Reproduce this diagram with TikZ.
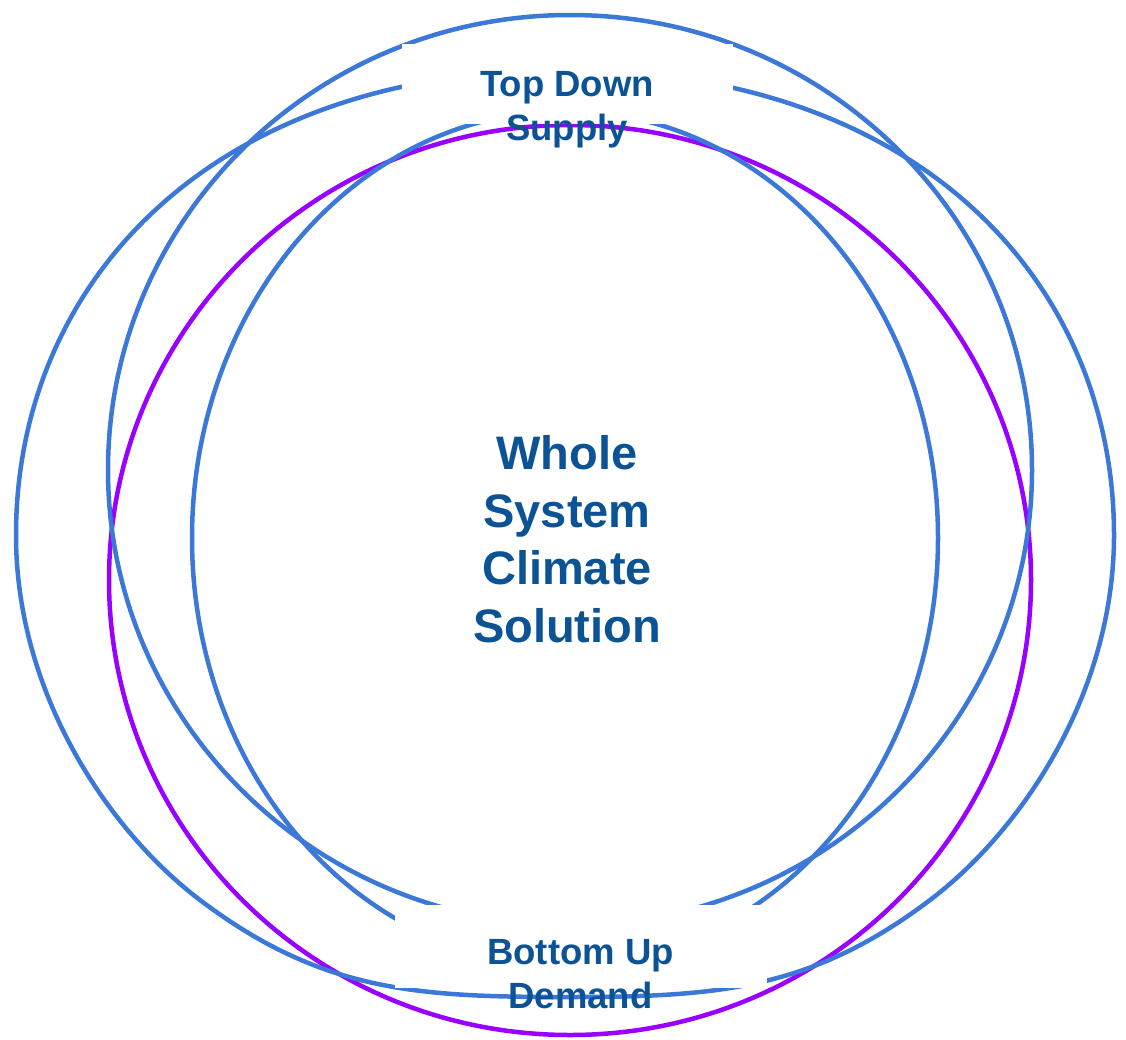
\documentclass[tikz,border=0pt]{standalone}
\usepackage{fontspec}
\setmainfont{Liberation Sans}
\definecolor{cblue}{HTML}{3C78D8}
\definecolor{cpurple}{HTML}{9900FF}
\definecolor{ctext}{HTML}{0B5394}
\begin{document}
\begin{tikzpicture}[x=1pt,y=-1pt,
  ring/.style={draw=cblue, line width=4.5pt},
  pring/.style={draw=cpurple, line width=4.5pt},
  mask/.style={fill=white, draw=none},
  lab/.style={text=ctext, font=\bfseries\fontsize{36.5}{44}\selectfont, align=center, inner sep=0pt},
  title/.style={text=ctext, font=\bfseries\fontsize{47}{57.4}\selectfont, align=center, inner sep=0pt}]
\useasboundingbox (0,0) rectangle (1126,1039);
\draw[pring] (570,580) ellipse [x radius=461pt, y radius=455pt];
\draw[ring] (570,470) ellipse [x radius=462pt, y radius=455pt];
\draw[ring] (565,538) ellipse [x radius=373pt, y radius=427pt];
\draw[ring] (16,535) .. controls (16,285) and (208,70) .. (565,70)
  .. controls (922,70) and (1114,285) .. (1114,535)
  .. controls (1114,695) and (1020,832) .. (930,900)
  .. controls (810,990.8) and (715,997) .. (565,997)
  .. controls (415,997) and (320,990.8) .. (200,900)
  .. controls (110,832) and (16,695) .. (16,535) -- cycle;
\fill[mask] (402,44) rectangle (733,124);
\fill[mask] (395,905) rectangle (767,988);
\node[lab, anchor=base] (supply) at (567,140) {Top Down\\Supply};
\node[lab, anchor=base] (demand) at (580.5,1008) {Bottom Up\\Demand};
\node[title, anchor=base] (whole) at (567,642) {Whole\\System\\Climate\\Solution};
\end{tikzpicture}
\end{document}
